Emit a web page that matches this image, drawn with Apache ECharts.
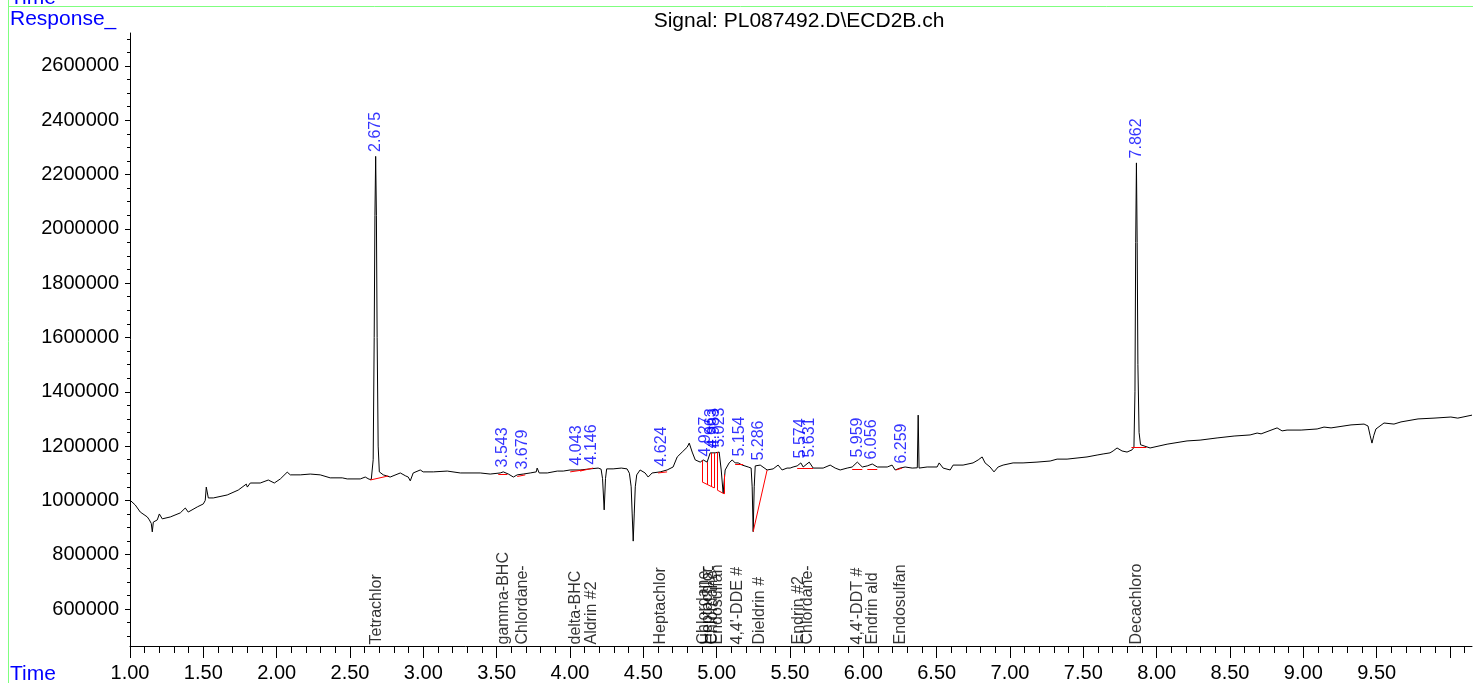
<!DOCTYPE html>
<html>
<head>
<meta charset="utf-8">
<script src="https://cdn.jsdelivr.net/npm/echarts@6/dist/echarts.min.js"></script>
<style>
html,body{margin:0;padding:0;background:#fff;}
#chart{width:1473px;height:683px;}
</style>
</head>
<body>
<div id="chart"></div>
<script>
// ---- chromatogram trace (retention time in min, detector response) ----
const traceTime = [
1.000,1.036,1.070,1.118,1.132,1.145,1.152,1.159,1.186,1.200,1.220,1.275,1.343,1.377,1.397,1.459,1.500,1.513,1.520,1.534,
1.568,1.663,1.738,1.793,1.800,1.820,1.888,1.943,1.984,2.025,2.072,2.093,2.161,2.229,2.297,2.365,2.447,2.481,2.570,2.604,
2.630,2.645,2.658,2.665,2.670,2.675,2.680,2.685,2.692,2.700,2.727,2.774,2.843,2.880,2.897,2.911,2.931,2.979,2.999,3.068,
3.163,3.252,3.388,3.456,3.524,3.545,3.580,3.614,3.640,3.681,3.729,3.770,3.776,3.790,3.845,3.913,3.954,4.001,4.069,4.137,
4.192,4.212,4.222,4.233,4.242,4.250,4.294,4.350,4.389,4.405,4.417,4.424,4.431,4.438,4.445,4.455,4.478,4.512,4.533,4.560,
4.615,4.662,4.703,4.731,4.765,4.799,4.813,4.833,4.854,4.888,4.908,4.935,4.956,4.990,5.017,5.031,5.044,5.058,5.085,5.106,
5.126,5.147,5.160,5.174,5.215,5.235,5.242,5.249,5.256,5.263,5.276,5.297,5.344,5.385,5.419,5.446,5.480,5.501,5.521,5.549,
5.574,5.590,5.631,5.658,5.726,5.774,5.808,5.842,5.890,5.924,5.959,5.993,6.027,6.061,6.095,6.163,6.196,6.217,6.251,6.285,
6.333,6.368,6.374,6.380,6.435,6.503,6.517,6.544,6.592,6.612,6.680,6.748,6.783,6.810,6.830,6.864,6.891,6.919,6.953,7.021,
7.089,7.184,7.274,7.321,7.389,7.457,7.525,7.594,7.635,7.682,7.703,7.730,7.764,7.798,7.832,7.845,7.852,7.857,7.862,7.867,
7.872,7.880,7.890,7.900,7.955,8.071,8.207,8.296,8.412,8.528,8.637,8.685,8.712,8.821,8.855,8.889,8.985,9.094,9.141,9.189,
9.325,9.414,9.441,9.455,9.468,9.481,9.495,9.550,9.618,9.666,9.782,9.891,10.006,10.053,10.150
];
const traceResponse = [
1001000,983000,957000,939000,928000,915000,884000,920000,928000,950000,932000,939000,954000,972000,957000,976000,987000,1000000,1049000,1009000,
1009000,1020000,1038000,1060000,1049000,1064000,1064000,1075000,1064000,1079000,1104000,1094000,1094000,1097000,1094000,1083000,1083000,1079000,1079000,1086000,
1078000,1077000,1150000,1600000,2050000,2267000,2050000,1600000,1200000,1105000,1094000,1086000,1101000,1090000,1086000,1072000,1101000,1112000,1105000,1105000,
1108000,1101000,1101000,1097000,1101000,1105000,1097000,1086000,1094000,1097000,1101000,1105000,1119000,1101000,1101000,1108000,1108000,1112000,1112000,1116000,
1119000,1115000,1080000,965000,1080000,1116000,1116000,1119000,1116000,1100000,1050000,950000,850000,950000,1050000,1094000,1112000,1101000,1086000,1101000,
1105000,1112000,1123000,1160000,1178000,1196000,1211000,1178000,1149000,1141000,1149000,1141000,1175000,1175000,1178000,1112000,1027000,1112000,1138000,1149000,
1138000,1138000,1145000,1130000,1123000,1119000,1050000,885000,1050000,1127000,1130000,1130000,1112000,1116000,1130000,1112000,1119000,1119000,1123000,1127000,
1138000,1123000,1141000,1119000,1119000,1130000,1119000,1112000,1119000,1123000,1141000,1123000,1127000,1134000,1123000,1123000,1130000,1112000,1119000,1123000,
1119000,1120000,1314000,1119000,1123000,1123000,1138000,1119000,1112000,1130000,1130000,1138000,1149000,1160000,1138000,1123000,1105000,1123000,1130000,1138000,
1138000,1141000,1145000,1152000,1152000,1156000,1160000,1167000,1171000,1175000,1182000,1193000,1182000,1178000,1186000,1195000,1400000,1950000,2243000,1950000,
1500000,1250000,1205000,1200000,1193000,1207000,1219000,1222000,1230000,1237000,1241000,1248000,1245000,1267000,1256000,1259000,1259000,1263000,1270000,1267000,
1278000,1281000,1274000,1240000,1211000,1240000,1263000,1285000,1281000,1289000,1300000,1303000,1307000,1303000,1314000
];

// ---- integration baselines (red): [t1, r1, t2, r2] ----
const baselineSegments = [
[2.638,1075000,2.761,1090000],
[3.511,1097000,3.573,1097000],
[3.640,1088000,3.695,1094000],
[4.001,1105000,4.090,1112000],
[4.069,1108000,4.158,1119000],
[4.601,1101000,4.662,1105000],
[4.901,1147000,4.901,1068000],
[4.901,1068000,4.983,1046000],
[4.935,1141000,4.935,1059000],
[4.962,1175000,4.962,1052000],
[4.983,1175000,4.983,1046000],
[5.004,1178000,5.004,1038000],
[5.004,1038000,5.051,1024000],
[5.051,1095000,5.051,1024000],
[5.126,1132000,5.181,1132000],
[5.249,885000,5.344,1112000],
[5.549,1119000,5.658,1119000],
[5.924,1116000,5.993,1116000],
[6.027,1116000,6.095,1116000],
[6.224,1112000,6.265,1119000],
[7.828,1197000,7.930,1197000]
];

// ---- integrated peaks: retention time labels ----
const peakTimes    = [2.675,3.543,3.679,4.043,4.146,4.624,4.927,4.963,4.983,5.023,5.154,5.286,5.574,5.631,5.959,6.056,6.259,7.862];
const peakResponse = [2267000,1105000,1097000,1112000,1116000,1108000,1145000,1175000,1175000,1178000,1145000,1130000,1138000,1141000,1141000,1134000,1119000,2243000];

// ---- compound names at expected retention times ----
const compoundNames = ["Tetrachlor","gamma-BHC","Chlordane-","delta-BHC","Aldrin #2","Heptachlor","Chlordane-","Heptachlor","Chlordane-","Endosulfan","4,4'-DDE #","Dieldrin #","Endrin #2","Chlordane-","4,4'-DDT #","Endrin ald","Endosulfan","Decachloro"];
const compoundTimes = [2.680,3.545,3.675,4.036,4.145,4.620,4.910,4.940,4.970,5.003,5.140,5.290,5.557,5.618,5.960,6.060,6.252,7.860];

// ---- axes ----
const xMin = 1.0, xMax = 10.15;
const yMin = 463700, yMax = 2721400;
const xMajorTicks = [1.0,1.5,2.0,2.5,3.0,3.5,4.0,4.5,5.0,5.5,6.0,6.5,7.0,7.5,8.0,8.5,9.0,9.5,10.0];
const xTickLabels = [1.0,1.5,2.0,2.5,3.0,3.5,4.0,4.5,5.0,5.5,6.0,6.5,7.0,7.5,8.0,8.5,9.0,9.5];
const yMajorTicks = [600000,800000,1000000,1200000,1400000,1600000,1800000,2000000,2200000,2400000,2600000];
const xMinorTicks = [];
for (let i = 10; i <= 101; i++) xMinorTicks.push(i / 10);
const yMinorTicks = [];
for (let v = 500000; v <= 2700000; v += 50000) yMinorTicks.push(v);

const FONT = "'Liberation Sans', Arial, sans-serif";
const BLUE = '#0000ff';

const chart = echarts.init(document.getElementById('chart'), null, {renderer: 'canvas'});
chart.setOption({
  animation: false,
  backgroundColor: '#ffffff',
  grid: {left: 130, right: 1, top: 33, bottom: 37, containLabel: false},
  xAxis: [{
    type: 'value', min: xMin, max: xMax, position: 'bottom',
    axisLine: {show: true, onZero: false, lineStyle: {color: '#000', width: 1}},
    axisTick: {show: true, customValues: xMajorTicks, length: 12, lineStyle: {color: '#000', width: 1}},
    axisLabel: {show: true, customValues: xTickLabels, formatter: v => Number(v).toFixed(2),
                fontSize: 20, color: '#000', fontFamily: FONT, margin: 17},
    splitLine: {show: false}
  }, {
    type: 'value', min: xMin, max: xMax, position: 'bottom', offset: 0,
    axisLine: {show: false},
    axisTick: {show: true, customValues: xMinorTicks, length: 7, lineStyle: {color: '#000', width: 1}},
    axisLabel: {show: false},
    splitLine: {show: false}
  }],
  yAxis: [{
    type: 'value', min: yMin, max: yMax, position: 'left',
    axisLine: {show: true, onZero: false, lineStyle: {color: '#000', width: 1}},
    axisTick: {show: true, customValues: yMajorTicks, length: 5, lineStyle: {color: '#000', width: 1}},
    axisLabel: {show: true, customValues: yMajorTicks, formatter: v => String(v),
                fontSize: 20, color: '#000', fontFamily: FONT, margin: 11},
    splitLine: {show: false}
  }, {
    type: 'value', min: yMin, max: yMax, position: 'left', offset: 0,
    axisLine: {show: false},
    axisTick: {show: true, customValues: yMinorTicks, length: 3, lineStyle: {color: '#000', width: 1}},
    axisLabel: {show: false},
    splitLine: {show: false}
  }],
  series: [{
    type: 'line', xAxisIndex: 0, yAxisIndex: 0,
    data: traceTime.map((t, i) => [t, traceResponse[i]]),
    showSymbol: false, symbol: 'none', sampling: null,
    lineStyle: {color: '#000', width: 1}, z: 3, silent: true
  }, {
    type: 'lines', coordinateSystem: 'cartesian2d', xAxisIndex: 0, yAxisIndex: 0,
    data: baselineSegments.map(s => ({coords: [[s[0], s[1]], [s[2], s[3]]]})),
    lineStyle: {color: '#ff0000', width: 1, opacity: 1}, z: 4, silent: true
  }, {
    type: 'scatter', xAxisIndex: 0, yAxisIndex: 0,
    data: peakTimes.map((t, i) => [t, peakResponse[i]]),
    symbolSize: 1, itemStyle: {color: 'rgba(0,0,0,0)'}, z: 5, silent: true,
    label: {show: true, position: 'top', distance: 4, rotate: 90, align: 'left', verticalAlign: 'middle',
            formatter: p => peakTimes[p.dataIndex].toFixed(3), color: BLUE, fontSize: 16, fontFamily: FONT}
  }, {
    type: 'scatter', xAxisIndex: 0, yAxisIndex: 0,
    data: compoundTimes.map(t => [t, yMin]),
    symbolSize: 1, itemStyle: {color: 'rgba(0,0,0,0)'}, z: 5, silent: true,
    label: {show: true, position: 'top', distance: 1, rotate: 90, align: 'left', verticalAlign: 'middle',
            formatter: p => compoundNames[p.dataIndex], color: '#000', fontSize: 16, fontFamily: FONT}
  }],
  graphic: [
    {type: 'line', shape: {x1: 8.5, y1: 0, x2: 8.5, y2: 683}, style: {stroke: '#7fff7f', lineWidth: 1}},
    {type: 'line', shape: {x1: 8, y1: 6.5, x2: 1473, y2: 6.5}, style: {stroke: '#7fff7f', lineWidth: 1}},
    {type: 'text', x: 10, y: 9, style: {text: 'Time', fill: BLUE, font: '21px ' + FONT, verticalAlign: 'bottom'}},
    {type: 'text', x: 10, y: 9, style: {text: 'Response_', fill: BLUE, font: '21px ' + FONT, verticalAlign: 'top'}},
    {type: 'text', x: 799, y: 11, style: {text: 'Signal: PL087492.D\\ECD2B.ch', fill: '#000', font: '21px ' + FONT, align: 'center', verticalAlign: 'top'}},
    {type: 'text', x: 10, y: 664, style: {text: 'Time', fill: BLUE, font: '21px ' + FONT, verticalAlign: 'top'}}
  ]
});
</script>
</body>
</html>
